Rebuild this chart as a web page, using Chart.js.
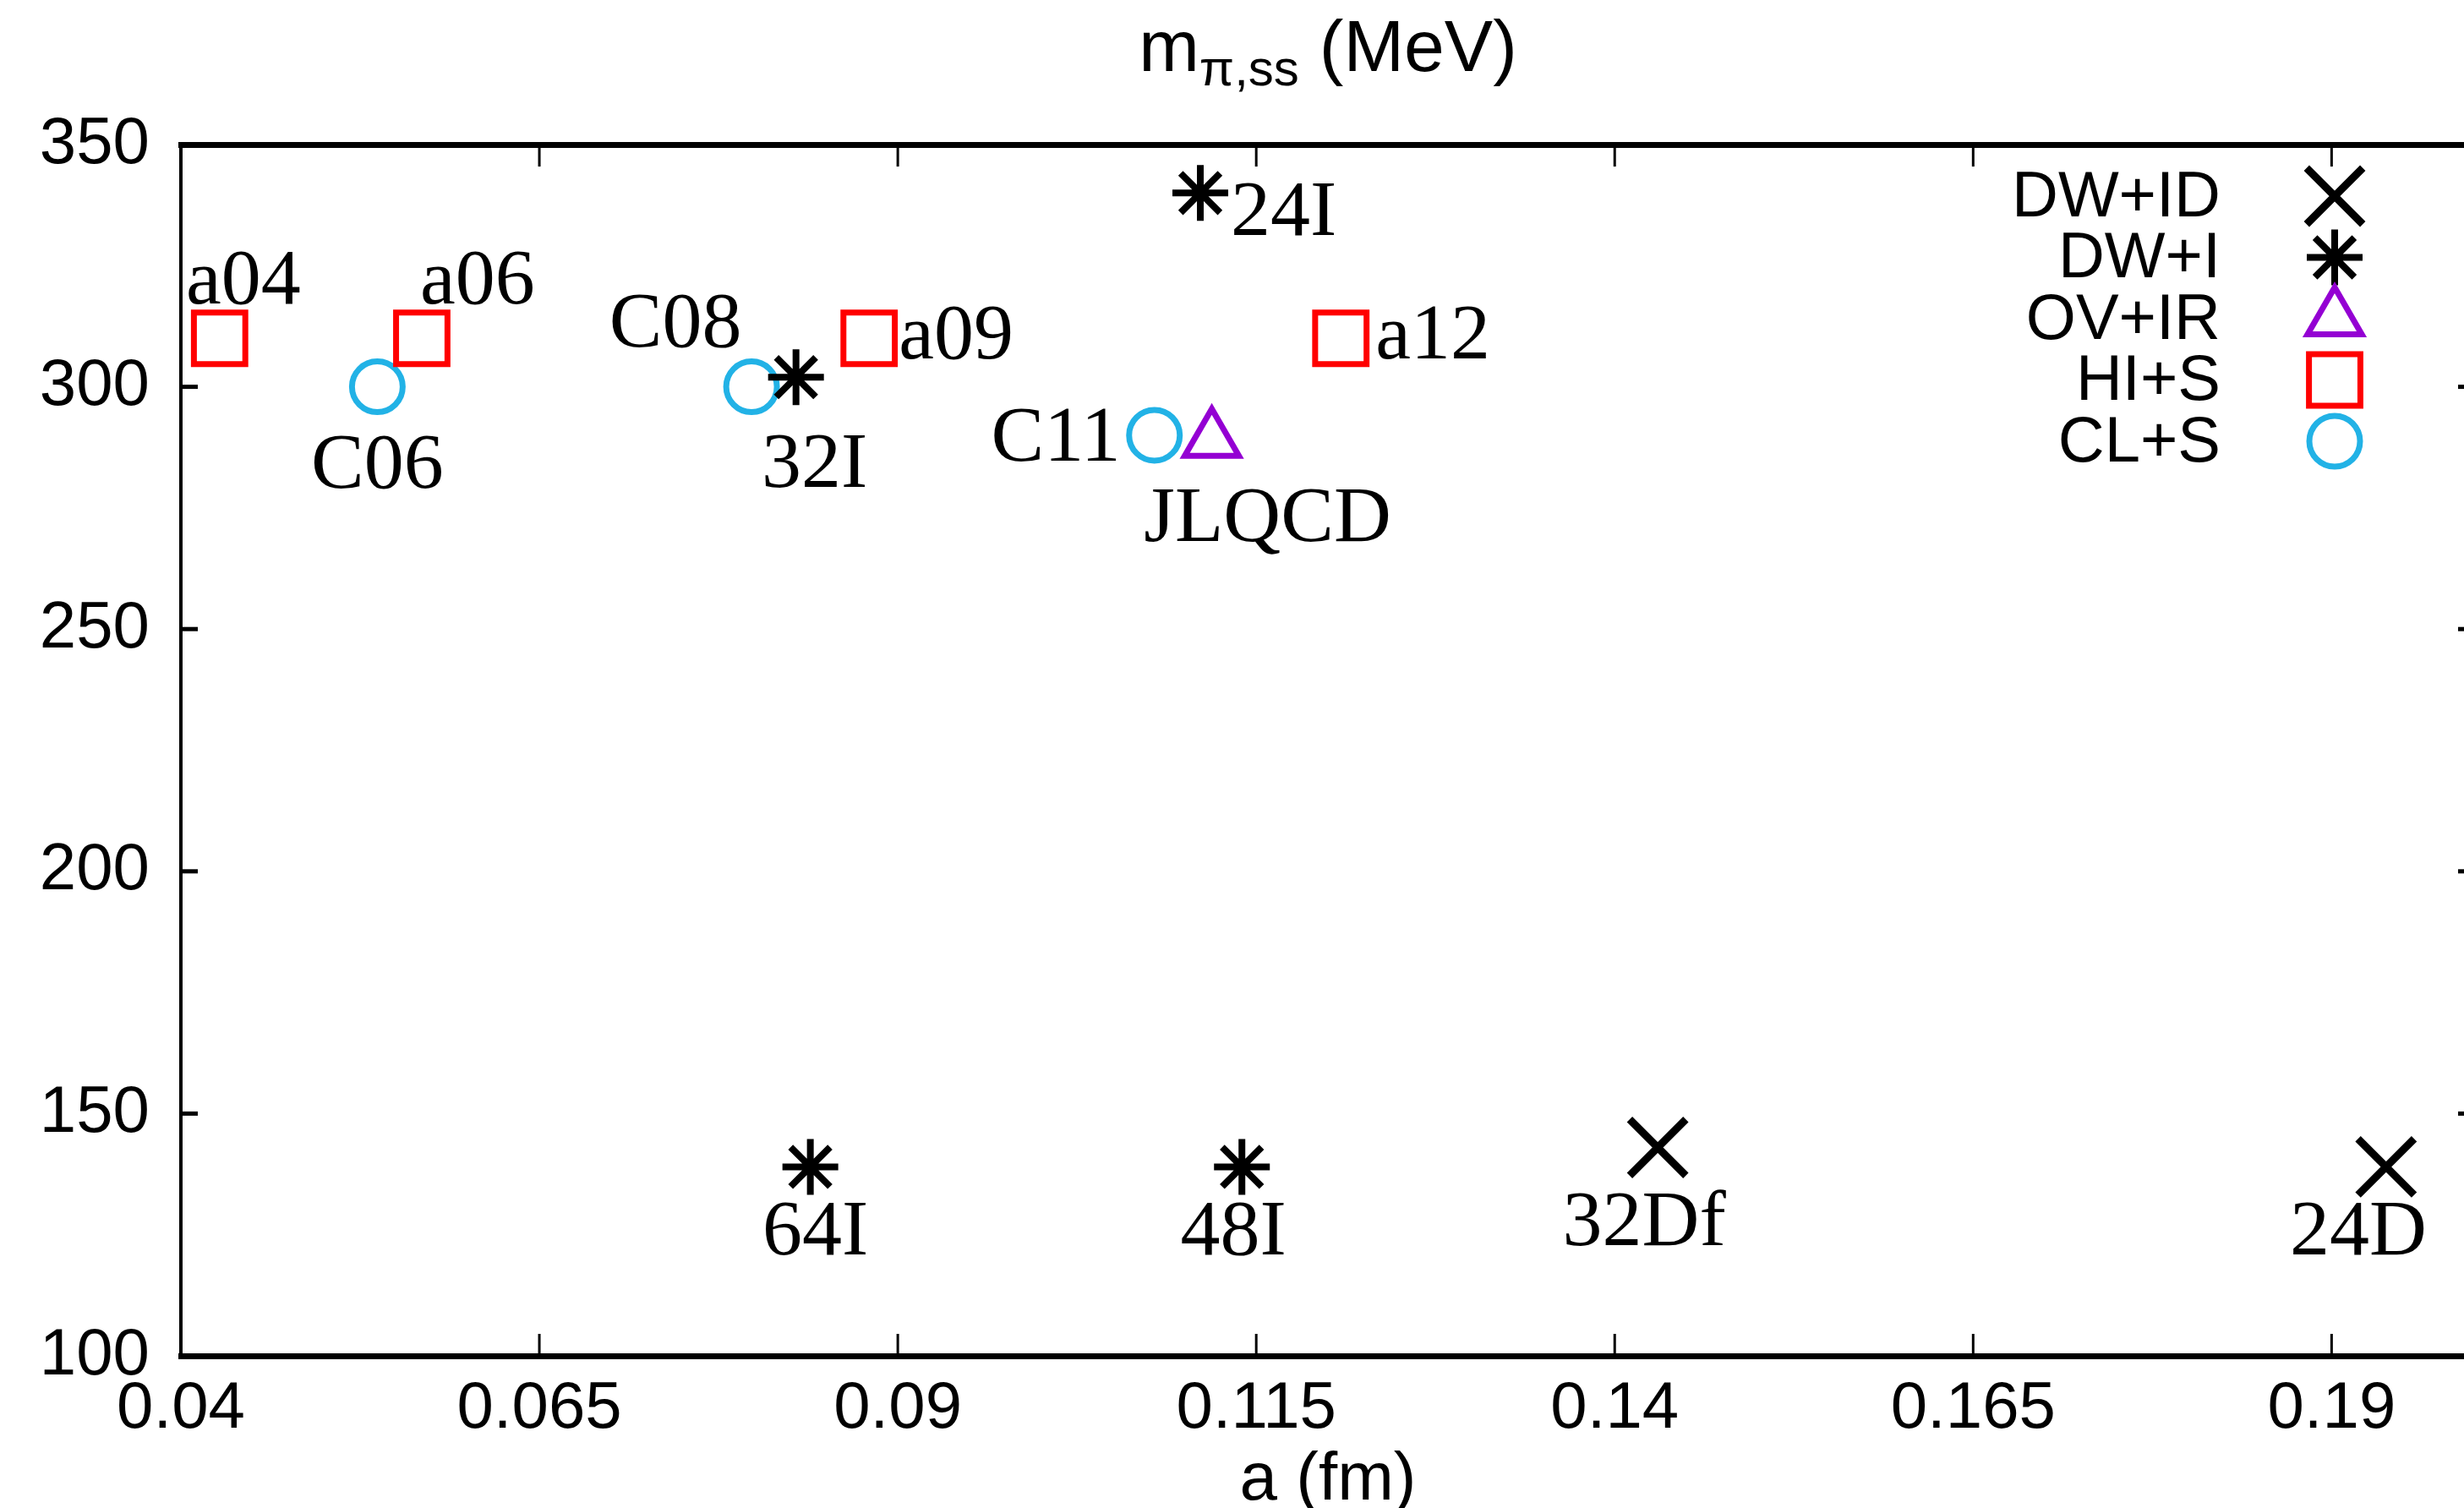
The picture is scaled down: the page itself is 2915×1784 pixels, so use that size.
<!DOCTYPE html>
<html>
<head>
<meta charset="utf-8">
<script src="https://cdn.jsdelivr.net/npm/chart.js@4.4.0/dist/chart.umd.min.js"></script>
<style>
  html, body { margin: 0; padding: 0; background: #fff; overflow: hidden; }
  #wrap { width: 2935px; height: 1784px; }
</style>
</head>
<body>
<div id="wrap"><canvas id="chart" width="2935" height="1784"></canvas></div>
<script>
// tick values
const xTicks = [0.04, 0.065, 0.09, 0.115, 0.14, 0.165, 0.19];
const yTicks = [100, 150, 200, 250, 300, 350];

// DW+ID
const dwidA = [0.1430, 0.1938];
const dwidM = [143, 139];
const dwidNames = ['32Df', '24D'];

// DW+I
const dwiA = [0.1111, 0.0829, 0.0839, 0.1140];
const dwiM = [340, 302, 139, 139];
const dwiNames = ['24I', '32I', '64I', '48I'];

// OV+IR
const ovA = [0.1119];
const ovM = [289];
const ovNames = ['JLQCD'];

// HI+S
const hisA = [0.0427, 0.0568, 0.0880, 0.1209];
const hisM = [310, 310, 310, 310];
const hisNames = ['a04', 'a06', 'a09', 'a12'];

// CL+S
const clsA = [0.0537, 0.0798, 0.1079];
const clsM = [300, 300, 290];
const clsNames = ['C06', 'C08', 'C11'];

// where each ensemble name sits relative to its marker: [dx, dy, align]
const labelPlace = {
  '32Df': [-16, 115, 'center'], '24D': [-33, 104, 'center'],
  '24I': [36, 50, 'left'], '32I': [22, 130, 'center'], '64I': [6, 104, 'center'], '48I': [-10, 104, 'center'],
  'JLQCD': [66, 119, 'center'],
  'a04': [28, -41, 'center'], 'a06': [66, -41, 'center'], 'a09': [35, 24, 'left'], 'a12': [41, 24, 'left'],
  'C06': [0, 119, 'center'], 'C08': [-90, -48, 'center'], 'C11': [-40, 30, 'right']
};

const toPoints = (xs, ys) => xs.map((v, i) => ({ x: v, y: ys[i] }));

function makeSet(label, xs, ys, names, style, color, radius, width) {
  return {
    label: label,
    data: toPoints(xs, ys),
    names: names,
    pointStyle: style,
    pointRadius: radius,
    pointHoverRadius: radius,
    borderColor: color,
    backgroundColor: 'rgba(0,0,0,0)',
    pointBorderWidth: width,
    borderWidth: width,
    showLine: false
  };
}

const datasets = [
  makeSet('DW+ID', dwidA, dwidM, dwidNames, 'crossRot', '#000000', 47, 9),
  makeSet('DW+I', dwiA, dwiM, dwiNames, 'star', '#000000', 33, 8),
  makeSet('OV+IR', ovA, ovM, ovNames, 'triangle', '#9400d3', 37, 7),
  makeSet('HI+S', hisA, hisM, hisNames, 'rect', '#ff0000', 43, 7),
  makeSet('CL+S', clsA, clsM, clsNames, 'circle', '#22b2e6', 30, 7)
];

const sansFont = "'Liberation Sans', Arial, sans-serif";
const serifFont = "'Liberation Serif', 'Times New Roman', serif";

// inward ticks on all four sides (gnuplot mirror style)
const mirrorTicks = {
  id: 'mirrorTicks',
  afterDraw(chart) {
    const { ctx, chartArea: a, scales: { x, y } } = chart;
    ctx.save();
    ctx.strokeStyle = '#000';
    const seg = (x0, y0, x1, y1) => { ctx.beginPath(); ctx.moveTo(x0, y0); ctx.lineTo(x1, y1); ctx.stroke(); };
    ctx.lineWidth = 3;
    x.ticks.forEach(t => {
      const px = x.getPixelForValue(t.value);
      seg(px, a.bottom, px, a.bottom - 26);
      seg(px, a.top, px, a.top + 26);
    });
    ctx.lineWidth = 5;
    y.ticks.forEach(t => {
      const py = y.getPixelForValue(t.value);
      seg(a.left, py, a.left + 20, py);
      seg(a.right, py, a.right - 20, py);
    });
    ctx.restore();
  }
};

// ensemble names next to markers
const pointNames = {
  id: 'pointNames',
  afterDatasetsDraw(chart) {
    const ctx = chart.ctx;
    ctx.save();
    ctx.fillStyle = '#000';
    ctx.font = '94px ' + serifFont;
    ctx.textBaseline = 'alphabetic';
    chart.data.datasets.forEach((ds, i) => {
      const meta = chart.getDatasetMeta(i);
      meta.data.forEach((el, j) => {
        const name = ds.names[j];
        const p = labelPlace[name] || [0, 0, 'center'];
        ctx.textAlign = p[2];
        ctx.fillText(name, el.x + p[0], el.y + p[1]);
      });
    });
    ctx.restore();
  }
};

// key in the top right corner: text then marker
const keyBox = {
  id: 'keyBox',
  afterDraw(chart) {
    const ctx = chart.ctx;
    const textRight = 2627, markX = 2762, top = 232, step = 72.5;
    ctx.save();
    ctx.font = '76px ' + sansFont;
    ctx.textAlign = 'right';
    ctx.textBaseline = 'middle';
    chart.data.datasets.forEach((ds, i) => {
      const yy = top + i * step;
      ctx.fillStyle = '#000';
      ctx.fillText(ds.label, textRight, yy + 3);
      ctx.strokeStyle = ds.borderColor;
      ctx.fillStyle = 'rgba(0,0,0,0)';
      ctx.lineWidth = ds.pointBorderWidth;
      Chart.helpers.drawPoint(ctx, {
        pointStyle: ds.pointStyle, radius: ds.pointRadius, rotation: 0, borderWidth: ds.pointBorderWidth
      }, markX, yy);
    });
    ctx.restore();
  }
};

// top title with subscript
const topTitle = {
  id: 'topTitle',
  afterDraw(chart) {
    const ctx = chart.ctx;
    const a = chart.chartArea;
    const big = '86px ' + sansFont, small = '60px ' + sansFont;
    const parts = [['m', big, 0], ['\u03c0,ss', small, 17], [' (MeV)', big, 0]];
    ctx.save();
    ctx.fillStyle = '#000';
    ctx.textBaseline = 'alphabetic';
    ctx.textAlign = 'left';
    let total = 0;
    parts.forEach(p => { ctx.font = p[1]; total += ctx.measureText(p[0]).width; });
    let x0 = (a.left + a.right) / 2 - total / 2;
    parts.forEach(p => {
      ctx.font = p[1];
      ctx.fillText(p[0], x0, 84 + p[2]);
      x0 += ctx.measureText(p[0]).width;
    });
    ctx.restore();
  }
};

const ctx = document.getElementById('chart');

new Chart(ctx, {
  type: 'scatter',
  data: { datasets: datasets },
  options: {
    responsive: false,
    animation: false,
    layout: { padding: 0, autoPadding: false },
    plugins: {
      legend: { display: false },
      tooltip: { enabled: false },
      title: { display: false }
    },
    scales: {
      x: {
        type: 'linear',
        position: 'bottom',
        min: 0.04,
        max: 0.2,
        afterBuildTicks: s => { s.ticks = xTicks.map(v => ({ value: v })); },
        afterFit: s => { s.height = 180; s.paddingLeft = 0; s.paddingRight = 0; },
        grid: { display: false, drawTicks: false },
        border: { display: true, width: 7, color: '#000' },
        ticks: {
          color: '#000',
          font: { family: sansFont, size: 78 },
          padding: 17,
          autoSkip: false,
          maxRotation: 0,
          callback: v => String(v)
        },
        title: {
          display: true,
          text: 'a (fm)',
          color: '#000',
          font: { family: sansFont, size: 80, lineHeight: 1 },
          padding: { top: 0, bottom: -8 }
        }
      },
      xTop: {
        type: 'linear',
        position: 'top',
        min: 0.04,
        max: 0.2,
        afterFit: s => { s.height = 171; s.paddingLeft = 0; s.paddingRight = 0; },
        grid: { display: false, drawTicks: false },
        border: { display: true, width: 7, color: '#000' },
        ticks: { display: false }
      },
      y: {
        type: 'linear',
        position: 'left',
        min: 100,
        max: 350,
        afterBuildTicks: s => { s.ticks = yTicks.map(v => ({ value: v })); },
        afterFit: s => { s.width = 214; s.paddingTop = 0; s.paddingBottom = 0; },
        grid: { display: false, drawTicks: false },
        border: { display: true, width: 4, color: '#000' },
        ticks: {
          color: '#000',
          font: { family: sansFont, size: 78 },
          padding: 37
        }
      },
      yRight: {
        type: 'linear',
        position: 'right',
        min: 100,
        max: 350,
        afterFit: s => { s.width = 7; s.paddingTop = 0; s.paddingBottom = 0; },
        grid: { display: false, drawTicks: false },
        border: { display: true, width: 4, color: '#000' },
        ticks: { display: false }
      }
    }
  },
  plugins: [mirrorTicks, pointNames, keyBox, topTitle]
});
</script>
</body>
</html>
